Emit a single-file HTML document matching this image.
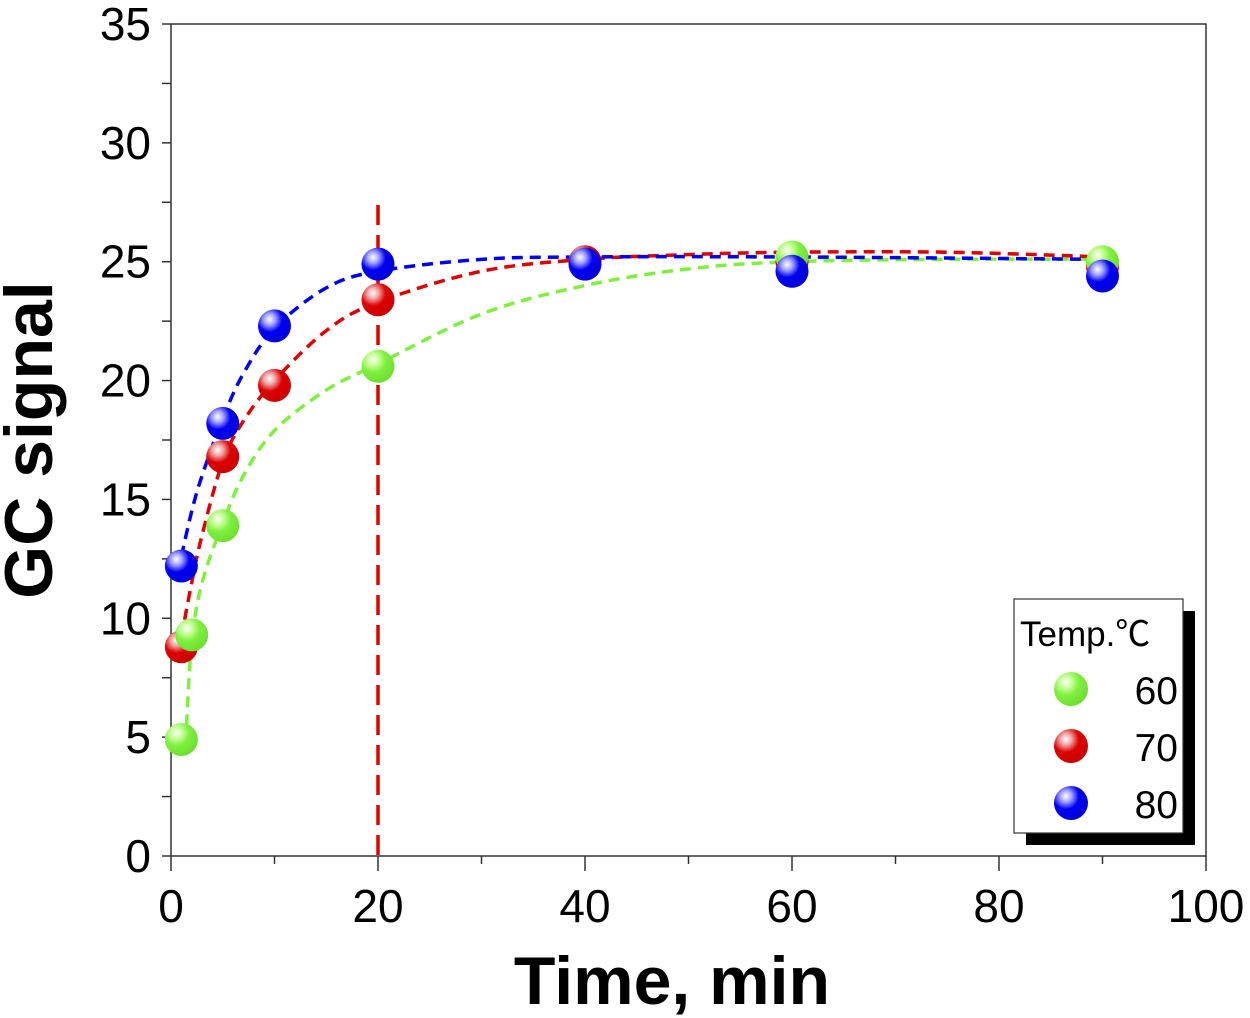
<!DOCTYPE html>
<html><head><meta charset="utf-8"><style>
html,body{margin:0;padding:0;background:#fff;}
svg{display:block;font-family:"Liberation Sans","Noto Sans CJK SC",sans-serif;}
</style></head><body>
<svg id="chart" width="1250" height="1018" viewBox="0 0 1250 1018">
<defs>
<radialGradient id="gG" cx="0.35" cy="0.3" r="0.7"><stop offset="0" stop-color="#fff"/><stop offset="0.25" stop-color="#c8ff9a"/><stop offset="0.55" stop-color="#80f040"/><stop offset="1" stop-color="#6ee030"/></radialGradient>
<radialGradient id="gR" cx="0.35" cy="0.3" r="0.7"><stop offset="0" stop-color="#fff"/><stop offset="0.25" stop-color="#f0a0a0"/><stop offset="0.55" stop-color="#dd0000"/><stop offset="1" stop-color="#cc0000"/></radialGradient>
<radialGradient id="gB" cx="0.35" cy="0.3" r="0.7"><stop offset="0" stop-color="#fff"/><stop offset="0.25" stop-color="#a0a0ff"/><stop offset="0.55" stop-color="#0000f0"/><stop offset="1" stop-color="#0000dd"/></radialGradient>
</defs>
<g id="plot"></g>
<text x="30" y="440" font-size="68" font-weight="bold" text-anchor="middle" transform="rotate(-90 30 440)" dy="22">GC signal</text>
<text x="672" y="1004" font-size="68" font-weight="bold" text-anchor="middle">Time, min</text>
<g>
<rect x="1026" y="611" width="169" height="234" fill="#000"/>
<rect x="1014" y="599" width="169" height="234" fill="#fff" stroke="#333" stroke-width="1.2"/>
<text x="1020" y="646" font-size="35">Temp.℃</text>
<circle cx="1071" cy="689" r="17" fill="url(#gG)"/>
<text x="1178" y="704" font-size="39" text-anchor="end">60</text>
<circle cx="1071" cy="746" r="17" fill="url(#gR)"/>
<text x="1178" y="761" font-size="39" text-anchor="end">70</text>
<circle cx="1071" cy="803" r="17" fill="url(#gB)"/>
<text x="1178" y="818" font-size="39" text-anchor="end">80</text>
</g>
</svg>
<script>
const xTicks=[0,20,40,60,80,100];
const yTicks=[0,5,10,15,20,25,30,35];
const t60=[1,2,5,20,60,90];
const v60=[4.9,9.3,13.9,20.6,25.2,25.0];
const t70=[1,5,10,20,40,60,90];
const v70=[8.8,16.8,19.8,23.4,25.0,25.0,24.8];
const t80=[1,5,10,20,40,60,90];
const v80=[12.2,18.2,22.3,24.9,24.9,24.6,24.4];
const fitT60=[1.5,2,3,5,7,10,15,20,30,40,50,60,75,90];
const fitV60=[5.5,9,11.5,14,16,17.9,19.6,20.7,22.8,24.0,24.7,25.0,25.1,25.1];
const fitT70=[1,2,3,5,7,10,15,20,30,40,50,60,75,90];
const fitV70=[9.2,11.5,13.5,16.6,18.3,20,22.1,23.3,24.6,25.1,25.3,25.4,25.4,25.2];
const fitT80=[1,2,3,5,7,10,15,20,30,40,60,90];
const fitV80=[12.6,14.5,16,18.4,20.3,22.2,23.9,24.6,25.1,25.2,25.2,25.1];
const markerLine=20;
const X0=171,X1=1206,Y0=856,Y1=24;
const sx=v=>X0+(v-0)/(100-0)*(X1-X0);
const sy=v=>Y0-(v-0)/(35-0)*(Y0-Y1);
const NS='http://www.w3.org/2000/svg';
const g=document.getElementById('plot');
function mk(tag,attrs,parent){const e=document.createElementNS(NS,tag);for(const k in attrs)e.setAttribute(k,attrs[k]);(parent||g).appendChild(e);return e;}
let fr=mk('rect',{x:X0,y:Y1,width:X1-X0,height:Y0-Y1,fill:'none',stroke:'#333','stroke-width':1.5});


for(let v=0;v<=100;v+=10){
 const major=v%20===0;
 const tk=mk('line',{x1:sx(v),x2:sx(v),y1:Y0,y2:Y0+(major?15:8),stroke:'#333','stroke-width':1.5});
 
 
}
xTicks.forEach(v=>{
 const t=mk('text',{x:sx(v),y:922,'font-size':46,'text-anchor':'middle'});t.textContent=v;
 
 
});
for(let v=0;v<=35;v+=2.5){
 const tk=mk('line',{x1:X0-9,x2:X0,y1:sy(v),y2:sy(v),stroke:'#333','stroke-width':1.5});
 
 
}
yTicks.forEach(v=>{
 const t=mk('text',{x:151,y:sy(v)+16,'font-size':46,'text-anchor':'end'});t.textContent=v;
 
 
});
const vl=mk('line',{x1:sx(markerLine),x2:sx(markerLine),y1:205,y2:Y0,stroke:'#dd0000','stroke-width':3.5,'stroke-dasharray':'20,10'});


function curve(ts,vs,color,name){
 const p=ts.map((t,i)=>[sx(t),sy(vs[i])]);
 let d='M'+p[0][0]+','+p[0][1];
 for(let i=0;i<p.length-1;i++){
  const a=p[Math.max(0,i-1)],b=p[i],c=p[i+1],e=p[Math.min(p.length-1,i+2)];
  const c1=[b[0]+(c[0]-a[0])/6,b[1]+(c[1]-a[1])/6],c2=[c[0]-(e[0]-b[0])/6,c[1]-(e[1]-b[1])/6];
  d+=' C'+c1+' '+c2+' '+c;
 }
 const el=mk('path',{d:d,fill:'none',stroke:color,'stroke-width':3.5,'stroke-dasharray':'11,7'});
 
 
}
curve(fitT60,fitV60,'#80f040','fit-curve-60');
curve(fitT70,fitV70,'#dd0000','fit-curve-70');
curve(fitT80,fitV80,'#0000f0','fit-curve-80');
function pts(ts,vs,fill,name){
 ts.forEach((t,i)=>{
  const c=mk('circle',{cx:sx(t),cy:sy(vs[i]),r:16.5,fill:fill});
  
  
 });
}
pts(t70,v70,'url(#gR)','point-70');
pts(t60,v60,'url(#gG)','point-60');
pts(t80,v80,'url(#gB)','point-80');
</script>
</body></html>
